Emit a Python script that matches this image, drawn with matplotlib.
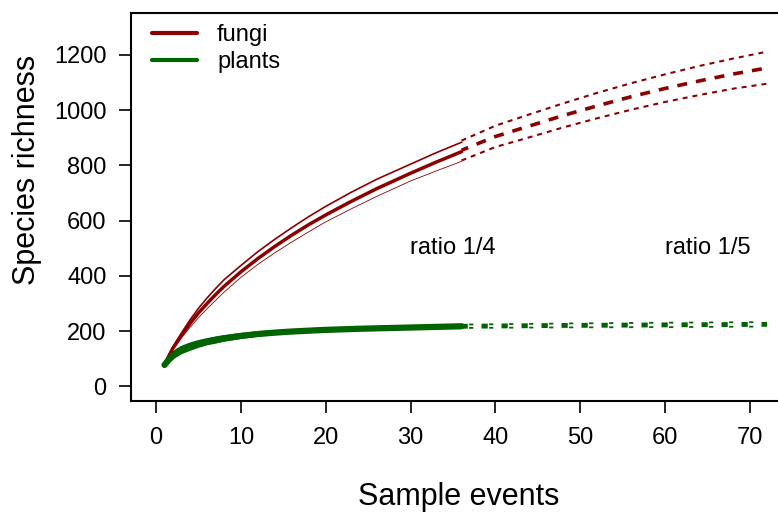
import numpy as np
import matplotlib
matplotlib.use("Agg")
import matplotlib.pyplot as plt

plt.rcParams['font.family'] = ['Liberation Sans Narrow', 'Liberation Sans', 'DejaVu Sans']
plt.rcParams['lines.scale_dashes'] = False

# fungi, observed part (solid)
fungi_x = [1, 1.5, 2, 3, 4, 5, 6, 7, 8, 10, 12, 14, 16, 18, 20, 23, 26, 30, 33, 36]
fungi_mean = [78, 110, 139, 185, 228, 266, 300, 332, 362, 415, 463, 507, 548, 586,
              621, 670, 716, 772, 812, 850]
fungi_upper = [78, 113, 144, 194, 241, 283, 320, 354, 386, 438, 488, 533, 575, 615,
               652, 703, 750, 805, 846, 884]
fungi_lower = [78, 107, 133, 176, 214, 249, 281, 311, 341, 395, 442, 484, 523, 560,
               596, 643, 688, 744, 780, 815]

# fungi, extrapolated part (dashed)
fungi_ext_x = [36, 40, 44, 48, 52, 56, 60, 64, 68, 72]
fungi_ext_mean = [855, 905, 943, 981, 1016, 1049, 1079, 1106, 1131, 1153]
fungi_ext_upper = [890, 944, 985, 1025, 1063, 1098, 1130, 1160, 1187, 1212]
fungi_ext_lower = [818, 867, 902, 938, 971, 1002, 1030, 1055, 1078, 1096]

# plants, observed part
plants_x = [1, 1.5, 2, 2.5, 3, 4, 5, 6, 7, 8, 10, 12, 14, 16, 18, 20, 24, 28, 32, 36]
plants_mean = [78, 97, 112, 123, 132, 144, 154, 162, 168, 174, 183, 190, 195, 199,
               202, 205, 209, 212, 215, 218]
plants_upper = [82, 104, 121, 133, 142, 154, 163, 170, 176, 181, 189, 195, 199, 203,
                206, 209, 212, 215, 218, 221]
plants_lower = [74, 90, 103, 113, 122, 134, 145, 154, 160, 167, 177, 185, 191, 195,
                198, 201, 206, 209, 212, 215]

# plants, extrapolated
plants_ext_x = [36, 48, 60, 72]
plants_ext_mean = [218, 221, 223, 225]
plants_ext_upper = [224, 228, 231, 233]
plants_ext_lower = [212, 214, 215, 217]

ratio_labels = ["ratio 1/4", "ratio 1/5"]
ratio_x = [35, 65]
ratio_y = [500, 500]

red = "#8b0000"
green = "#006400"

W, H = 778, 517
fig = plt.figure(figsize=(W / 100, H / 100), dpi=100)
ax = fig.add_axes([131 / W, (H - 401) / H, 1 - 131 / W, (401 - 13) / H])

# fungi
ax.plot(fungi_x, fungi_upper, color=red, lw=1.2)
ax.plot(fungi_x, fungi_lower, color=red, lw=0.6)
ax.plot(fungi_x, fungi_mean, color=red, lw=2.5, solid_capstyle='round', label="fungi")
ax.plot(fungi_ext_x, fungi_ext_upper, color=red, lw=1.5, linestyle=(0, (3.6, 3.6)))
ax.plot(fungi_ext_x, fungi_ext_lower, color=red, lw=1.5, linestyle=(0, (3.6, 3.6)))
ax.plot(fungi_ext_x, fungi_ext_mean, color=red, lw=2.6, linestyle=(2, (7.2, 6.5)))

# plants
ax.plot(plants_x, plants_upper, color=green, lw=2)
ax.plot(plants_x, plants_lower, color=green, lw=2)
ax.plot(plants_x, plants_mean, color=green, lw=4.5, solid_capstyle='round', label="plants")
ax.plot(plants_ext_x, plants_ext_upper, color=green, lw=1.3, linestyle=(8.9, (3.0, 11.4)))
ax.plot(plants_ext_x, plants_ext_lower, color=green, lw=1.3, linestyle=(8.9, (3.0, 11.4)))
ax.plot(plants_ext_x, plants_ext_mean, color=green, lw=3.5, linestyle=(0, (4.5, 9.9)))

for lab, tx, ty in zip(ratio_labels, ratio_x, ratio_y):
    ax.text(tx, ty, lab, ha='center', va='center', fontsize=17)

ax.set_xlim(-2.95, 73.3)
ax.set_ylim(-52.5, 1352)
ax.set_xticks(range(0, 80, 10))
ax.set_yticks(range(0, 1400, 200))
ax.spines['right'].set_visible(False)
for s in ['left', 'bottom', 'top']:
    ax.spines[s].set_linewidth(1.5)
ax.tick_params(axis='x', direction='out', length=8.6, width=1.2, pad=10, labelsize=17)
ax.tick_params(axis='y', direction='out', length=8.6, width=1.2, pad=9, labelsize=17)

leg = ax.legend(loc='upper left', bbox_to_anchor=(0.018, 0.995), frameon=False,
                fontsize=17, handlelength=1.9, handletextpad=0.85, labelspacing=0.2,
                borderaxespad=0)
for line in leg.get_lines():
    line.set_linewidth(3)

fig.text(459 / W, 1 - 497 / H, "Sample events", ha='center', va='center', fontsize=22)
fig.text(27 / W, 1 - 170 / H, "Species richness", ha='center', va='center',
         rotation=90, fontsize=22)

fig.savefig("out.png", dpi=100)
